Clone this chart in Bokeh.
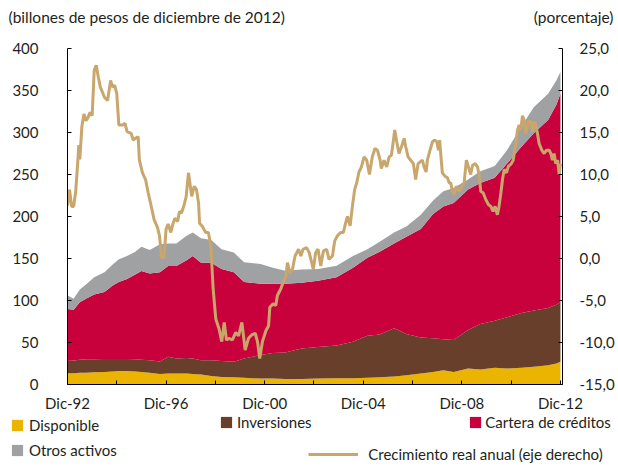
from bokeh.plotting import figure
from bokeh.models import (Range1d, LinearAxis, FixedTicker, Label, Legend,
                          LegendItem, ColumnDataSource)
from bokeh.layouts import column
from bokeh.embed import file_html
from bokeh.resources import INLINE

# months since Dec-1992
area_months = [0, 3, 6, 9, 13, 18, 22, 25, 29, 33, 36, 40, 45, 49, 53, 58, 61, 65,
               70, 75, 81, 86, 94, 100, 106, 114, 122, 131, 139, 146, 152, 159, 165,
               172, 178, 183, 188, 195, 201, 208, 214, 221, 227, 234, 238, 240]
disponible = [13.4, 13.5, 14, 14, 14.5, 15, 15.5, 16, 16, 15.5, 15, 14, 12.5, 13, 13,
              13, 12.5, 12, 10, 9, 8.5, 8, 7, 7, 6.5, 6.5, 7, 7.5, 7.5, 8, 8.5, 9.5,
              11, 13, 15, 17, 15, 19, 18, 20, 19, 20, 21, 23, 25, 27]
inversiones = [14.6, 15, 15.5, 16, 15.5, 15.3, 14.8, 14.5, 14.5, 14.5, 14.5, 15, 14.9,
               20, 18, 18.5, 18.5, 17, 19, 19, 18.5, 23, 28, 30.5, 31.5, 36.4, 37.5,
               39, 43.5, 50, 51, 57.5, 49, 43, 40, 37, 38, 46, 54, 56, 61, 65, 67, 68,
               70, 71]
cartera = [62, 60.5, 68.5, 72, 77, 79.7, 87.7, 91.5, 95.1, 101, 105.5, 103, 106.1, 108,
           110, 116.5, 122, 116, 116, 109.5, 106.6, 91, 85, 82.5, 82, 78.1, 79.1, 81.1,
           88, 93, 98.5, 101, 116, 129, 148, 158, 163, 167, 168, 170, 183, 198, 211,
           224, 238, 248]
otros = [16, 13, 15, 17, 20.6, 23.5, 25, 27, 27.4, 27, 29, 28, 33.5, 27, 27, 29, 28, 29,
         27, 23.5, 23.4, 23.4, 23.4, 19, 15.5, 16, 13.9, 13.8, 14, 10, 12, 13, 12, 17,
         16, 18, 18, 12, 14, 14, 16, 24, 31, 31, 29, 26]

line_months = [0, 1, 2, 3, 4, 5, 5.5, 6, 7, 8, 9, 10, 11, 12, 13, 14, 15, 16, 18, 19.5,
               21, 22, 23, 24, 25, 27, 28, 29, 31, 32, 33, 34.4, 35, 36.5, 38, 39.3,
               40.6, 42.2, 43.8, 44.8, 45.8, 47, 48, 49, 50.3, 51.3, 52.3, 53.6, 54.5,
               55.5, 56.8, 57.8, 58.9, 60.5, 61.7, 62.8, 63.8, 64.3, 65.7, 67.3, 68.6,
               69.8, 70.9, 72.2, 73.8, 75.1, 76.3, 77.4, 78.7, 80.3, 81.9, 83.3, 84.9,
               86.5, 88.1, 89.7, 91.4, 92.5, 93.6, 94.9, 96.6, 97.9, 98.5, 100.1, 101.4,
               102.2, 103.9, 105, 106.3, 107.1, 108.3, 109.5, 110.8, 112.5, 113.6,
               114.7, 116.4, 117.7, 119.7, 120.8, 122, 123.3, 124.6, 126.2, 127.3, 129,
               130.1, 131.4, 133, 134.3, 135.4, 136.3, 137.6, 138.7, 139.8, 140.8,
               141.9, 143.1, 144.4, 145.7, 147, 148.4, 149.7, 150.9, 152.2, 152.8,
               154.1, 155.4, 156.6, 157.7, 158.7, 159.3, 160.3, 161.4, 162.6, 163.9,
               164.7, 165.8, 167.1, 168.4, 169.5, 170.7, 171.7, 172.8, 173.6, 174.6,
               175.2, 176.5, 177.7, 178.8, 179.8, 180.6, 181.2, 181.7, 182.5, 183.8,
               185, 185.8, 186.6, 187.4, 188.2, 189.4, 190.7, 192, 193.1, 194.2, 195.2,
               196.3, 197.2, 198.5, 199.6, 200.4, 201.2, 202.4, 203.7, 205, 206.1,
               207.2, 208.2, 209.3, 210.1, 211, 211.8, 212.6, 213.7, 214.7, 215.8, 217,
               218, 219.1, 219.9, 220.7, 221.5, 222.3, 223.1, 224.4, 225.6, 226.4,
               227.2, 228, 228.8, 229.6, 230.9, 232.1, 233.2, 234.5, 235.3, 236.1,
               236.9, 237.7, 238.6, 239.4, 240]
crecimiento = [6.3, 8.2, 6.2, 6.2, 8.0, 11.5, 13.5, 11.8, 15.7, 17.2, 16.4, 16.8, 17.4,
               17.0, 22.4, 23.0, 21.6, 20.4, 19.2, 18.8, 21.2, 20.4, 20.6, 19.6, 15.9,
               15.9, 16.1, 15.1, 14.9, 14.1, 14.3, 14.5, 11.7, 10.2, 9.4, 7.8, 6.4, 4.6,
               3.7, 2.7, 0.1, 0.1, 3.5, 4.1, 3.1, 4.1, 4.8, 4.4, 5.6, 5.4, 6.4, 7.4,
               10.2, 7.4, 8.6, 8.2, 6.6, 4.2, 3.8, 3.1, 3.1, 1.5, -3.6, -7.2, -8.4,
               -9.9, -7.6, -9.7, -9.5, -9.7, -8.8, -9.2, -7.6, -10.9, -9.5, -9.1, -8.9,
               -9.9, -11.9, -9.9, -8.6, -8.0, -5.8, -5.4, -5.6, -4.4, -3.6, -2.8, -2.1,
               -0.5, -1.7, -1.3, 0.3, 1.1, 0.3, 1.1, 1.3, 0.7, -1.3, 0.7, 1.1, -0.9,
               0.9, 1.1, -0.1, 0.3, 2.1, 2.7, 3.1, 3.1, 4.2, 5.0, 3.9, 6.2, 8.2, 9.0,
               10.3, 10.9, 12.1, 11.7, 10.0, 12.1, 13.1, 12.9, 11.7, 10.7, 11.7, 10.9,
               12.1, 12.3, 14.1, 15.3, 13.9, 12.5, 13.3, 14.3, 13.3, 12.1, 11.7, 11.3,
               9.4, 11.3, 11.5, 11.7, 10.9, 10.3, 11.7, 12.9, 13.9, 14.1, 13.9, 12.9,
               14.1, 12.5, 10.2, 9.8, 9.6, 9.0, 9.0, 8.0, 7.6, 8.6, 8.0, 8.6, 9.0, 11.7,
               10.9, 10.0, 11.1, 11.3, 10.9, 10.0, 8.0, 7.8, 7.0, 6.4, 6.2, 5.6, 6.2,
               5.2, 6.2, 7.8, 9.4, 10.6, 10.2, 11.0, 11.2, 11.7, 13.3, 15.3, 15.9, 15.3,
               17.0, 16.5, 14.9, 16.3, 16.3, 15.1, 16.3, 15.9, 14.9, 13.7, 12.9, 12.5,
               12.9, 12.9, 12.5, 11.7, 12.5, 11.3, 11.7, 10.0, 11.3]

left_ticks = [0, 50, 100, 150, 200, 250, 300, 350, 400]
right_ticks = [-15, -10, -5, 0, 5, 10, 15, 20, 25]
right_labels = ["-15,0", "-10,0", "-5,0", "0,0", "5,0", "10,0", "15,0", "20,0", "25,0"]
x_ticks = [0, 24, 48, 72, 96, 120, 144, 168, 192, 216, 240]
x_labels = ["Dic-92", "", "Dic-96", "", "Dic-00", "", "Dic-04", "", "Dic-08", "", "Dic-12"]

series_names = ["Disponible", "Inversiones", "Cartera de créditos", "Otros activos"]
line_name = "Crecimiento real anual (eje derecho)"
series_colors = ["#EBB400", "#673F2A", "#C8003C", "#A0A1A3"]
line_color = "#C8A66C"
FONT = "Lato"
TXT = "#231F20"
W = 618


def blank_fig(h):
    f = figure(width=W, height=h, x_range=Range1d(0, W), y_range=Range1d(0, h),
               output_backend="svg", toolbar_location=None, x_axis_type=None,
               y_axis_type=None, min_border=0, min_border_left=0,
               min_border_right=0, min_border_top=0, min_border_bottom=0,
               frame_align=False)
    f.outline_line_color = None
    f.grid.visible = False
    return f


# ---- header with the two axis titles ----
head = blank_fig(40)
head.add_layout(Label(x=8, y=24, text="(billones de pesos de diciembre de 2012)",
                      text_font=FONT, text_font_size="15.5px", text_color=TXT,
                      text_baseline="middle", text_align="left"))
head.add_layout(Label(x=613, y=24, text="(porcentaje)", text_font=FONT,
                      text_font_size="15.5px", text_color=TXT,
                      text_baseline="middle", text_align="right"))

# ---- main chart ----
src = ColumnDataSource(data=dict(m=area_months, disp=disponible, inv=inversiones,
                                 cart=cartera, otros=otros))

p = figure(width=W, height=374, x_range=Range1d(0, 241), y_range=Range1d(0, 400),
           output_backend="svg", toolbar_location=None,
           min_border_left=67, min_border_right=56, min_border_top=8,
           min_border_bottom=28, frame_align=False)
p.outline_line_color = None
p.xgrid.visible = False
p.ygrid.visible = False

p.extra_y_ranges = {"pct": Range1d(-15, 25)}
raxis = LinearAxis(y_range_name="pct")
p.add_layout(raxis, "right")

areas = p.varea_stack(["disp", "inv", "cart", "otros"], x="m", source=src,
                      color=series_colors)
ln = p.line(line_months, crecimiento, y_range_name="pct", line_color=line_color,
            line_width=3)


def style_axis(ax):
    ax.axis_line_color = "black"
    ax.axis_line_width = 1
    ax.major_tick_line_color = "black"
    ax.major_tick_in = 4
    ax.major_tick_out = 0
    ax.minor_tick_line_color = None
    ax.major_label_text_font = FONT
    ax.major_label_text_font_size = "15px"
    ax.major_label_text_color = TXT


xa = p.xaxis[0]
style_axis(xa)
xa.ticker = FixedTicker(ticks=x_ticks)
xa.major_label_overrides = {t: l for t, l in zip(x_ticks, x_labels)}
xa.major_label_standoff = 9

la = p.yaxis[0]
style_axis(la)
la.ticker = FixedTicker(ticks=left_ticks)
la.major_label_standoff = 29

style_axis(raxis)
raxis.ticker = FixedTicker(ticks=right_ticks)
raxis.major_label_overrides = {t: l for t, l in zip(right_ticks, right_labels)}
raxis.major_label_standoff = 17

# ---- legend row (swatches use off-canvas copies of the chart's glyph styles) ----
leg_fig = blank_fig(54)
hidden_x = [-20, -10]
dummy_areas = [leg_fig.varea(x=hidden_x, y1=[0, 0], y2=[1, 1], fill_color=c)
               for c in series_colors]
dummy_line = leg_fig.line(x=hidden_x, y=[0, 0], line_color=line_color, line_width=3)


def add_leg(renderer, label, loc, gw, standoff):
    leg = Legend(items=[LegendItem(label=label, renderers=[renderer])], location=loc,
                 orientation="horizontal", glyph_width=gw, glyph_height=14,
                 label_height=14, label_standoff=standoff, padding=0, margin=0,
                 spacing=0, border_line_alpha=0, background_fill_alpha=0,
                 label_text_font=FONT, label_text_font_size="15px",
                 label_text_color=TXT)
    leg_fig.add_layout(leg, "center")


add_leg(dummy_areas[0], series_names[0], (10, 34.3), 14, 5)
add_leg(dummy_areas[1], series_names[1], (219, 37.2), 14, 4)
add_leg(dummy_areas[2], series_names[2], (468.3, 36.7), 14, 3)
add_leg(dummy_areas[3], series_names[3], (10, 8.8), 14, 5)
add_leg(dummy_line, line_name, (308.3, 5.0), 50, 10)

layout = column(head, p, leg_fig, spacing=0)
open("out.html", "w").write(file_html(layout, INLINE))
